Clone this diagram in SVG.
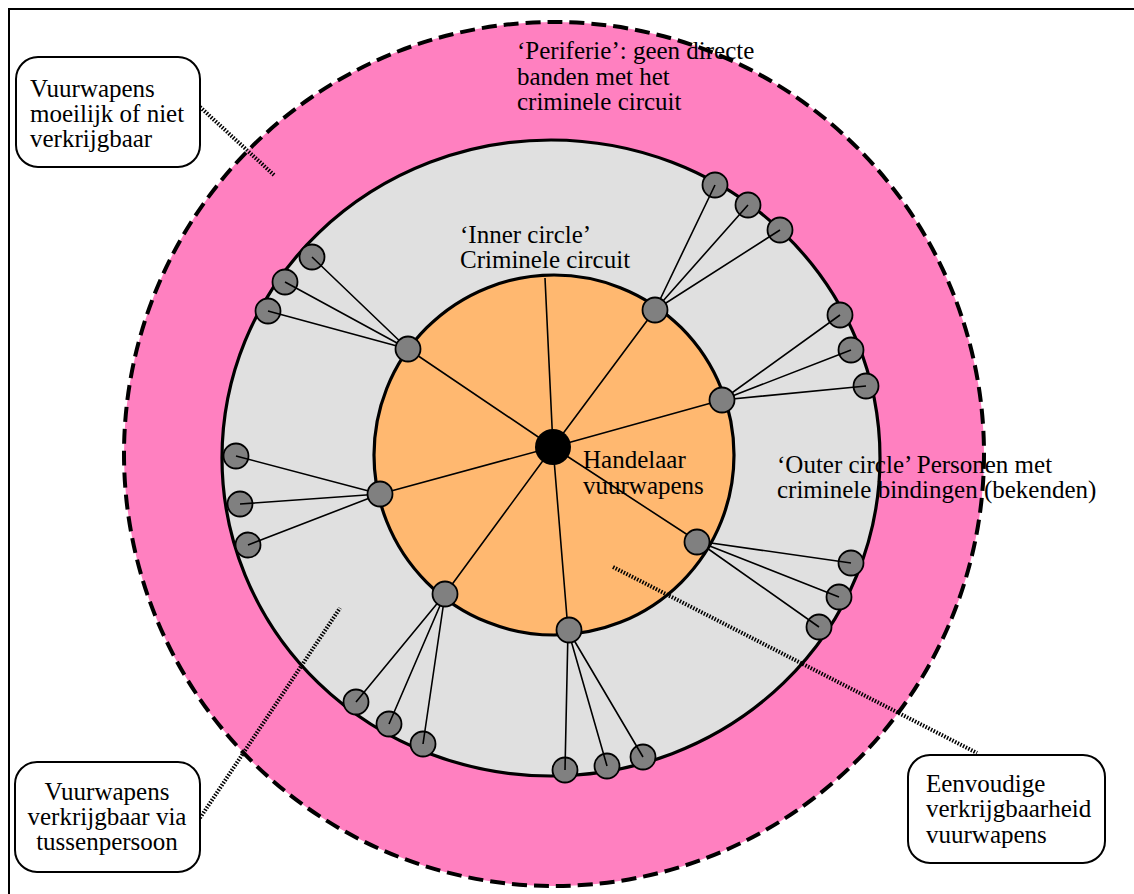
<svg xmlns="http://www.w3.org/2000/svg" width="1134" height="894" viewBox="0 0 1134 894">
<style>
.t{font-family:"Liberation Serif","Times New Roman",serif;font-size:25px;fill:#000}
.box{fill:#fff;stroke:#000;stroke-width:2}
.hatch{stroke:#000;stroke-width:4;stroke-dasharray:1.5 1.5;fill:none}
.sp{stroke:#000;stroke-width:1.6;fill:none}
.n{fill:#808080;stroke:#000;stroke-width:1.8}
</style>
<rect x="9" y="9" width="1140" height="900" fill="#fff" stroke="#000" stroke-width="2"/>
<g id="periferie">
<ellipse cx="554" cy="454" rx="430" ry="432" fill="#FF80C0" stroke="#000" stroke-width="4" stroke-dasharray="15 7"/>
</g>
<g id="outer-circle">
<ellipse cx="551" cy="458" rx="329" ry="318" fill="#E0E0E0" stroke="#000" stroke-width="3.2"/>
</g>
<g id="inner-circle">
<circle cx="554" cy="455" r="180" fill="#FFB870" stroke="#000" stroke-width="3.2"/>
</g>
<g id="connectors">
<path class="sp" d="M553 447L545 278M553 447L408 349M553 447L655 310M553 447L722 400M553 447L380 494M553 447L445 594M553 447L568 630M553 447L697 541"/>
<path class="hatch" d="M200 107L274 175"/>
<path class="hatch" d="M200 818L340 608"/>
<path class="hatch" d="M613 567L977 753"/>
</g>
<g id="outer-nodes">
<circle class="n" cx="312" cy="257" r="12.5"/><circle class="n" cx="285" cy="282" r="12.5"/><circle class="n" cx="268" cy="311" r="12.5"/>
<circle class="n" cx="715" cy="185" r="12.5"/><circle class="n" cx="748" cy="205" r="12.5"/><circle class="n" cx="780" cy="230" r="12.5"/>
<circle class="n" cx="840" cy="315" r="12.5"/><circle class="n" cx="851" cy="350" r="12.5"/><circle class="n" cx="866" cy="386" r="12.5"/>
<circle class="n" cx="236" cy="456" r="12.5"/><circle class="n" cx="240" cy="504" r="12.5"/><circle class="n" cx="248" cy="545" r="12.5"/>
<circle class="n" cx="356" cy="702" r="12.5"/><circle class="n" cx="389" cy="724" r="12.5"/><circle class="n" cx="423" cy="744" r="12.5"/>
<circle class="n" cx="565" cy="770" r="12.5"/><circle class="n" cx="607" cy="766" r="12.5"/><circle class="n" cx="643" cy="757" r="12.5"/>
<circle class="n" cx="851" cy="563" r="12.5"/><circle class="n" cx="839" cy="597" r="12.5"/><circle class="n" cx="819" cy="627" r="12.5"/>
</g>
<g id="outer-spoke-lines">
<path class="sp" d="M408 349L312 257M408 349L285 282M408 349L268 311M655 310L715 185M655 310L748 205M655 310L780 230M722 400L840 315M722 400L851 350M722 400L866 386M380 494L236 456M380 494L240 504M380 494L248 545M445 594L356 702M445 594L389 724M445 594L423 744M568 630L565 770M568 630L607 766M568 630L643 757M697 541L851 563M697 541L839 597M697 541L819 627"/>
</g>
<g id="inner-nodes">
<circle class="n" cx="408" cy="349" r="12.5"/><circle class="n" cx="655" cy="310" r="12.5"/><circle class="n" cx="722" cy="400" r="12.5"/>
<circle class="n" cx="380" cy="494" r="12.5"/><circle class="n" cx="445" cy="594" r="12.5"/><circle class="n" cx="569" cy="630" r="12.5"/>
<circle class="n" cx="697" cy="542" r="12.5"/>
</g>
<g id="handelaar">
<circle cx="553" cy="447" r="18" fill="#000"/>
<text class="t" x="583" y="468">Handelaar</text>
<text class="t" x="583" y="494">vuurwapens</text>
</g>
<g id="label-periferie">
<text class="t" x="517" y="59">‘Periferie’: geen directe</text>
<text class="t" x="517" y="85">banden met het</text>
<text class="t" x="517" y="110">criminele circuit</text>
</g>
<g id="label-inner">
<text class="t" x="460" y="243">‘Inner circle’</text>
<text class="t" x="460" y="268">Criminele circuit</text>
</g>
<g id="label-outer">
<text class="t" x="777" y="473">‘Outer circle’ Personen met</text>
<text class="t" x="777" y="498">criminele bindingen (bekenden)</text>
</g>
<g id="callout-moeilijk">
<rect class="box" x="16" y="57" width="184" height="110" rx="22"/>
<text class="t" x="30" y="97">Vuurwapens</text>
<text class="t" x="30" y="122">moeilijk of niet</text>
<text class="t" x="30" y="147">verkrijgbaar</text>
</g>
<g id="callout-tussenpersoon">
<rect class="box" x="15" y="762" width="185" height="110" rx="22"/>
<text class="t" x="107" y="800" text-anchor="middle">Vuurwapens</text>
<text class="t" x="107" y="825" text-anchor="middle">verkrijgbaar via</text>
<text class="t" x="107" y="850" text-anchor="middle">tussenpersoon</text>
</g>
<g id="callout-eenvoudig">
<rect class="box" x="908" y="755" width="197" height="108" rx="22"/>
<text class="t" x="926" y="792">Eenvoudige</text>
<text class="t" x="926" y="817">verkrijgbaarheid</text>
<text class="t" x="926" y="843">vuurwapens</text>
</g>
</svg>
